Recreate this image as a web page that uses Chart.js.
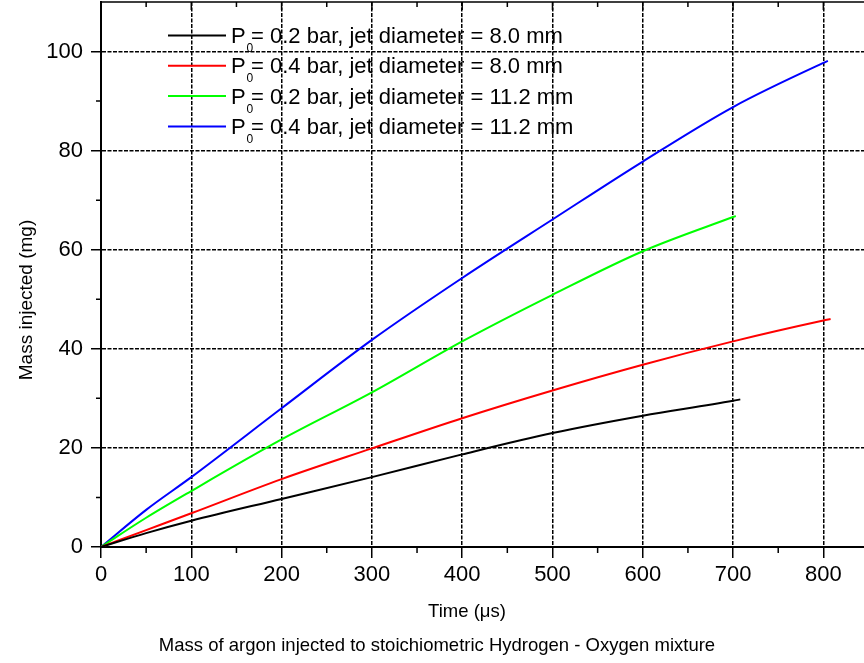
<!DOCTYPE html>
<html>
<head>
<meta charset="utf-8">
<script src="https://cdn.jsdelivr.net/npm/chart.js@4.4.0/dist/chart.umd.min.js"></script>
<style>
    html, body { margin: 0; padding: 0; background: #fff; }
    #wrap { width: 864px; height: 663px; position: relative; }
</style>
</head>
<body>
<div id="wrap"><canvas id="mass-chart"></canvas></div>
<script>
// time (us) and injected mass (mg)
const timeBlack = [0, 50, 100, 200, 300, 400, 500, 600, 700, 708];
const massBlack = [0, 2.8, 5.3, 9.7, 14.1, 18.7, 23.0, 26.5, 29.5, 29.8];

const timeRed = [0, 50, 100, 200, 300, 400, 500, 600, 700, 800, 808];
const massRed = [0, 3.4, 6.8, 13.7, 19.9, 26.0, 31.6, 36.8, 41.5, 45.7, 46.0];

const timeGreen = [0, 50, 100, 200, 300, 400, 500, 600, 700, 703];
const massGreen = [0, 5.9, 11.3, 21.7, 31.2, 41.5, 50.9, 59.7, 66.6, 66.8];

const timeBlue = [0, 50, 100, 200, 300, 400, 500, 600, 700, 800, 805];
const massBlue = [0, 7.5, 14.1, 28.0, 41.8, 54.3, 66.1, 77.8, 88.8, 97.7, 98.1];

// axis ticks
const xTickValues = [0, 100, 200, 300, 400, 500, 600, 700, 800];
const yTickValues = [0, 20, 40, 60, 80, 100];

// legend text
const legendPressure = ['0.2', '0.4', '0.2', '0.4'];
const legendDiameter = ['8.0', '8.0', '11.2', '11.2'];
const lineColors = ['#000000', '#ff0000', '#00ff00', '#0000ff'];

const xTitle = 'Time (\u03bcs)';
const yTitle = 'Mass injected (mg)';
const caption = 'Mass of argon injected to stoichiometric Hydrogen - Oxygen mixture';

const FONT = '"Liberation Sans", Arial, sans-serif';

const toPoints = (xs, ys) => xs.map((t, i) => ({ x: t, y: ys[i] }));
const series = [
    toPoints(timeBlack, massBlack),
    toPoints(timeRed, massRed),
    toPoints(timeGreen, massGreen),
    toPoints(timeBlue, massBlue)
];

// minor ticks, top axis, titles and legend with subscript
const decorations = {
    id: 'decorations',
    afterDraw(chart) {
        const { ctx, chartArea: area, scales: { x, y } } = chart;
        ctx.save();
        ctx.strokeStyle = '#000';
        ctx.lineWidth = 1.5;
        ctx.beginPath();
        for (let v = 50; v < x.max; v += 100) {
            const px = x.getPixelForValue(v);
            ctx.moveTo(px, area.bottom);
            ctx.lineTo(px, area.bottom + 6);
            ctx.moveTo(px, area.top);
            ctx.lineTo(px, area.top + 5);
        }
        for (let v = 100; v < x.max; v += 100) {
            const px = x.getPixelForValue(v);
            ctx.moveTo(px, area.top);
            ctx.lineTo(px, area.top + 8);
        }
        for (let v = 10; v < y.max; v += 20) {
            const py = y.getPixelForValue(v);
            ctx.moveTo(area.left, py);
            ctx.lineTo(area.left - 5, py);
        }
        ctx.moveTo(area.left, area.top);
        ctx.lineTo(area.right, area.top);
        ctx.stroke();

        // titles
        ctx.fillStyle = '#000';
        ctx.textAlign = 'center';
        ctx.textBaseline = 'middle';
        ctx.font = '18.5px ' + FONT;
        ctx.fillText(xTitle, 467, 612);
        ctx.fillText(caption, 437, 646);
        ctx.save();
        ctx.translate(27, 300);
        ctx.rotate(-Math.PI / 2);
        ctx.font = '19px ' + FONT;
        ctx.fillText(yTitle, 0, 0);
        ctx.restore();

        // legend
        ctx.textAlign = 'left';
        ctx.textBaseline = 'alphabetic';
        chart.data.datasets.forEach((ds, i) => {
            const rowY = 35.5 + i * 30.3;
            ctx.strokeStyle = ds.borderColor;
            ctx.lineWidth = 2;
            ctx.beginPath();
            ctx.moveTo(168, rowY);
            ctx.lineTo(226, rowY);
            ctx.stroke();
            ctx.fillStyle = '#000';
            ctx.font = '22px ' + FONT;
            ctx.fillText('P', 231, rowY + 7.5);
            ctx.fillText('= ' + legendPressure[i] + ' bar, jet diameter = ' + legendDiameter[i] + ' mm', 251, rowY + 7.5);
            ctx.font = '12px ' + FONT;
            ctx.fillText('0', 246.5, rowY + 16.5);
        });
        ctx.restore();
    }
};

let ctx = document.getElementById('mass-chart').getContext('2d');
// eslint-disable-next-line no-undef
new Chart(ctx, {
    type: 'line',
    data: {
        datasets: series.map((pts, i) => ({
            label: 'P0= ' + legendPressure[i] + ' bar, jet diameter = ' + legendDiameter[i] + ' mm',
            data: pts,
            borderColor: lineColors[i],
            backgroundColor: lineColors[i],
            borderWidth: 2,
            pointRadius: 0,
            cubicInterpolationMode: 'monotone',
            fill: false
        }))
    },
    options: {
        responsive: true,
        maintainAspectRatio: false,
        animation: false,
        layout: { padding: { top: 2, left: 0, right: 0, bottom: 0 } },
        plugins: {
            legend: { display: false },
            tooltip: { enabled: false }
        },
        scales: {
            x: {
                type: 'linear',
                min: 0,
                max: 845,
                afterBuildTicks: scale => {
                    scale.ticks = xTickValues.map(v => ({ value: v }));
                },
                afterFit: scale => {
                    scale.height = 116;
                    scale.paddingLeft = 0;
                    scale.paddingRight = 0;
                },
                ticks: {
                    padding: 4,
                    color: '#000',
                    font: { family: FONT, size: 22 },
                    maxRotation: 0,
                    autoSkip: false
                },
                grid: {
                    color: '#000',
                    lineWidth: 1.5,
                    tickColor: '#000',
                    tickWidth: 1.5,
                    tickLength: 11
                },
                border: { display: true, color: '#000', width: 2, dash: [4, 1.5] }
            },
            y: {
                min: 0,
                max: 110,
                afterBuildTicks: scale => {
                    scale.ticks = yTickValues.map(v => ({ value: v }));
                },
                afterFit: scale => {
                    scale.width = 101;
                    scale.paddingTop = 0;
                    scale.paddingBottom = 0;
                },
                ticks: {
                    padding: 8,
                    color: '#000',
                    font: { family: FONT, size: 22 },
                    autoSkip: false
                },
                grid: {
                    color: '#000',
                    lineWidth: 1.5,
                    tickColor: '#000',
                    tickWidth: 1.5,
                    tickLength: 10
                },
                border: { display: true, color: '#000', width: 2, dash: [4, 1.5] }
            }
        }
    },
    plugins: [decorations]
});
</script>
</body>
</html>
